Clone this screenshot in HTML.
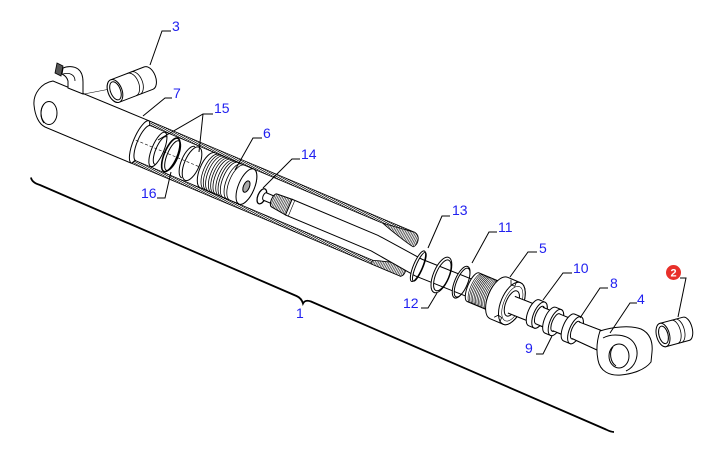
<!DOCTYPE html>
<html><head><meta charset="utf-8">
<style>
html,body{margin:0;padding:0;background:#fff;}
svg{display:block;}
text{font-family:"Liberation Sans",Arial,sans-serif;font-size:14px;fill:#2020f0;}
</style></head><body>
<svg width="720" height="471" viewBox="0 0 720 471" xmlns="http://www.w3.org/2000/svg">
<defs>
<pattern id="hb" patternUnits="userSpaceOnUse" width="2.2" height="4" patternTransform="skewX(-35)">
 <rect width="2.2" height="4" fill="#fff"/>
 <line x1="0.5" y1="0" x2="0.5" y2="4" stroke="#000" stroke-width="0.9"/>
</pattern>
<pattern id="kn" patternUnits="userSpaceOnUse" width="1.6" height="4">
 <rect width="1.6" height="4" fill="#fff"/>
 <line x1="0.4" y1="0" x2="0.4" y2="4" stroke="#333" stroke-width="0.7"/>
</pattern>
</defs>

<!-- cylinder body (eye end) -->
<path d="M149.3,120.9 L53,81 C41,83 33,94 34,105 C35,116 39,124 45,127 L131.5,163.3" fill="#fff" stroke="#000" stroke-width="1"/>
<ellipse cx="49" cy="113" rx="8" ry="11.5" fill="#fff" stroke="#000" stroke-width="1"/>
<path d="M44,104 C40,109 40,118 44,123" fill="none" stroke="#000" stroke-width="1"/>

<!-- main tube group -->
<g transform="translate(145,144) rotate(22.78)" stroke="#000" stroke-width="1" fill="none">
  <path d="M-5,-23 L283,-23 L283,-19 L-3,-19 Z" fill="url(#hb)" stroke-width="0.8"/>
  <path d="M-3,19 L287,19 L287,23 L-5,23 Z" fill="url(#hb)" stroke-width="0.8"/>
  <path d="M-5,23 A7,23 0 0 1 -5,-23"/>
  <path d="M-2,19 A6,19 0 0 1 -2,-19"/>
  <path d="M250,-19 L283,-23 C290,-22 291,-12 287,-9 C280,-10 262,-15 250,-19 Z" fill="url(#kn)" stroke-width="0.8"/>
  <path d="M255,19 C268,15 280,11 285,11 C290,12 291,20 287,23 L255,23 Z" fill="url(#kn)" stroke-width="0.8"/>
  <line x1="-10" y1="0" x2="66" y2="0" stroke-dasharray="3,2" stroke-width="0.6"/>
  <ellipse cx="14" cy="0" rx="6" ry="18.5"/>
  <path d="M17,-15 A5,15 0 0 0 17,15"/>
  <ellipse cx="28" cy="0" rx="6.5" ry="18" stroke-width="1.6"/>
  <ellipse cx="30" cy="0" rx="5.5" ry="16"/>
  <ellipse cx="51" cy="0" rx="7.5" ry="18"/>
  <path d="M47,-17 A7,17 0 0 0 47,17"/>
  <path d="M68,-19 L110,-19 A8,19 0 0 1 110,19 L68,19 A8,19 0 0 1 68,-19 Z" fill="#fff"/>
  <path d="M72,-19 A8,19 0 0 0 72,19 M74.5,-19 A8,19 0 0 0 74.5,19 M77,-19 A8,19 0 0 0 77,19 M80,-19 A8,19 0 0 0 80,19 M82.5,-19 A8,19 0 0 0 82.5,19 M85,-19 A8,19 0 0 0 85,19 M88,-19 A8,19 0 0 0 88,19 M90.5,-19 A8,19 0 0 0 90.5,19 M93,-19 A8,19 0 0 0 93,19 M97,-19 A8,19 0 0 0 97,19 M100,-19 A8,19 0 0 0 100,19" stroke-width="0.8"/>
  <ellipse cx="110" cy="0" rx="8" ry="19" fill="#fff"/>
  <ellipse cx="110" cy="0" rx="3" ry="6" fill="#aaa"/>
  <ellipse cx="128" cy="3" rx="4" ry="8" stroke-width="1.3"/>
  <path d="M131,-2 L142,-2 L142,6 L131,6 A2,4 0 0 1 131,-2 Z" fill="#fff"/>
  <path d="M141,-5 L157,-6 L157,11 L141,9 A3,7 0 0 1 141,-5 Z" fill="url(#kn)"/>
  <path d="M157,-6 L250,-6 L300,-1 L470,-4 L500,-5 L500,15 L470,14 L300,17 L250,11 L157,11 Z" fill="#fff"/>
  <line x1="160" y1="-6" x2="160" y2="11" stroke-width="0.6"/>

  <path fill-rule="evenodd" fill="#fff" d="M299,-9.5 A4.5,16.5 0 1 1 299,23.5 A4.5,16.5 0 1 1 299,-9.5 Z M300.5,-8.5 A3.6,15.5 0 1 1 300.5,22.5 A3.6,15.5 0 1 1 300.5,-8.5 Z"/>
  <path fill-rule="evenodd" fill="#fff" d="M324,-13 A8,19 0 1 1 324,25 A8,19 0 1 1 324,-13 Z M325,-10.5 A6.5,16.5 0 1 1 325,22.5 A6.5,16.5 0 1 1 325,-10.5 Z"/>
  <path fill-rule="evenodd" fill="#fff" d="M345,-12 A6.5,17 0 1 1 345,22 A6.5,17 0 1 1 345,-12 Z M346,-10.5 A5.5,15.5 0 1 1 346,20.5 A5.5,15.5 0 1 1 346,-10.5 Z"/>

  <!-- gland 5 -->
  <path d="M358,-10.5 L388,-10.5 L388,20.5 L358,20.5 A5.5,15.5 0 0 1 358,-10.5 Z" fill="#fff"/>
  <path d="M361,-10.5 A5.5,15.5 0 0 0 361,20.5 M362.6,-10.5 A5.5,15.5 0 0 0 362.6,20.5 M364.2,-10.5 A5.5,15.5 0 0 0 364.2,20.5 M365.8,-10.5 A5.5,15.5 0 0 0 365.8,20.5 M367.4,-10.5 A5.5,15.5 0 0 0 367.4,20.5 M369,-10.5 A5.5,15.5 0 0 0 369,20.5 M370.6,-10.5 A5.5,15.5 0 0 0 370.6,20.5 M372.2,-10.5 A5.5,15.5 0 0 0 372.2,20.5 M373.8,-10.5 A5.5,15.5 0 0 0 373.8,20.5 M375.4,-10.5 A5.5,15.5 0 0 0 375.4,20.5 M377,-10.5 A5.5,15.5 0 0 0 377,20.5 M378.6,-10.5 A5.5,15.5 0 0 0 378.6,20.5 M380.2,-10.5 A5.5,15.5 0 0 0 380.2,20.5 M381.8,-10.5 A5.5,15.5 0 0 0 381.8,20.5 M383.4,-10.5 A5.5,15.5 0 0 0 383.4,20.5" stroke-width="0.6"/>
  <path d="M386,-17.5 L400,-17.5 A11,22.5 0 0 1 400,27.5 L386,27.5 A11,22.5 0 0 1 386,-17.5 Z" fill="#fff"/>
  <ellipse cx="400" cy="5" rx="11" ry="22.5" fill="#fff"/>
  <ellipse cx="400.5" cy="5" rx="8.5" ry="18.5" stroke-width="0.6"/>
  <path d="M390,-16.5 L392,-12 L396,-12 L396,-17 M389,24.5 L392,21 L396,22 L396,27" stroke-width="0.8"/>
  <ellipse cx="400" cy="5" rx="6" ry="13.5" fill="#fff"/>
  <path d="M400,-2.7 L424,-3.2 L424,14.8 L400,15.3" fill="#fff"/>

  <path d="M424,-9 L430,-9 A6,14 0 0 1 430,19 L424,19 A6,14 0 0 1 424,-9 Z" fill="#fff"/>
  <ellipse cx="430" cy="5" rx="6" ry="14" fill="#fff"/>
  <ellipse cx="430" cy="5" rx="3.8" ry="9.5" fill="#fff"/>
  <path d="M430,-3.5 L442,-3.6 L442,14.4 L430,14.5" fill="#fff"/>
  <path d="M442,-8.5 L448,-8.5 A6,14 0 0 1 448,19.5 L442,19.5 A6,14 0 0 1 442,-8.5 Z" fill="#fff"/>
  <ellipse cx="448" cy="5.5" rx="6" ry="14" fill="#fff"/>
  <ellipse cx="448" cy="5.5" rx="3.8" ry="9.5" fill="#fff"/>
  <path d="M448,-3.8 L462,-3.9 L462,14.1 L448,14.2" fill="#fff"/>
  <path d="M462,-9.5 L469,-9.5 A6,14.5 0 0 1 469,19.5 L462,19.5 A6,14.5 0 0 1 462,-9.5 Z" fill="#fff"/>
  <ellipse cx="469" cy="5" rx="6" ry="14.5" fill="#fff"/>
  <ellipse cx="469" cy="5" rx="3.8" ry="9.5" fill="#fff"/>
  <path d="M469,-4 L500,-5 L500,15 L469,14" fill="#fff"/>
</g>

<!-- rod eye (4) -->
<path d="M600,331 C612,327 630,325 641,329 C650,333 653,342 652,352 L651,362 C645,370 632,374 621,375 C609,376 600,371 598,360 C596,350 597,340 600,331 Z" fill="#fff" stroke="#000" stroke-width="1"/>
<path d="M603,338 C612,333 628,334 634,343 C640,352 637,366 626,371" fill="none" stroke="#000" stroke-width="1"/>
<ellipse cx="619" cy="356" rx="10" ry="12" fill="#fff" stroke="#000" stroke-width="1"/>
<path d="M613,347 C609,352 610,362 616,366" fill="none" stroke="#000" stroke-width="1"/>

<!-- lug + nipple -->
<path d="M57,63 L63,66 L61,76 L55,73 Z" fill="#555" stroke="#000" stroke-width="0.8"/>
<path d="M68,88 L68,81 C67,77 64,75 62,74 L63,68 C67,66 74,66 78,69 C82,72 83,77 83,82 L83,94 Z" fill="#fff" stroke="#000" stroke-width="1"/>
<path d="M63,74 C70,72 75,75 75,81" fill="none" stroke="#000" stroke-width="0.8"/>
<line x1="84" y1="94" x2="110" y2="89" stroke="#000" stroke-width="0.6"/>

<!-- bushing 3 -->
<g transform="translate(115,91) rotate(-21)" stroke="#000" stroke-width="1" fill="none">
  <path d="M0,-12 L36,-12 A7,12 0 0 1 36,12 L0,12 A7,12 0 0 1 0,-12 Z" fill="#fff"/>
  <path d="M18,-12 A7,12 0 0 1 18,12 M22,-12 A7,12 0 0 1 22,12" stroke-width="0.8"/>
  <ellipse cx="0" cy="0" rx="7" ry="12" fill="#fff"/>
  <ellipse cx="0.5" cy="0" rx="5" ry="9.5"/>
</g>

<!-- bushing 2 -->
<g transform="translate(663,335) rotate(-15)" stroke="#000" stroke-width="1" fill="none">
  <path d="M0,-12 L24,-12 A6,12 0 0 1 24,12 L0,12 A6,12 0 0 1 0,-12 Z" fill="#fff"/>
  <path d="M12,-12 A6,12 0 0 1 12,12 M16,-12 A6,12 0 0 1 16,12" stroke-width="0.8"/>
  <ellipse cx="0" cy="0" rx="6.5" ry="12" fill="#fff"/>
  <ellipse cx="0.5" cy="0" rx="4.5" ry="9"/>
</g>

<!-- leaders -->
<g stroke="#000" stroke-width="1" fill="none">
  <polyline points="171,31 162,31 150,65"/>
  <polyline points="172,98 165,98 143,116"/>
  <polyline points="213,114 203,114 158,140"/>
  <line x1="203" y1="114" x2="199" y2="152"/>
  <polyline points="262,138 253,138 235,170"/>
  <polyline points="300,159 292,159 263,188"/>
  <polyline points="157,198 165,198 171,172"/>
  <polyline points="450,216 442,216 428,248"/>
  <polyline points="497,232 489,232 472,263"/>
  <polyline points="537,252 528,252 510,277"/>
  <polyline points="572,273 563,273 543,300"/>
  <polyline points="608,288 600,288 580,318"/>
  <polyline points="637,303 630,303 610,333"/>
  <polyline points="421,308 428,308 437,293"/>
  <polyline points="536,354 543,354 552,336"/>
  <polyline points="680,278 686,278 678,317"/>
</g>

<!-- bracket 1 -->
<path d="M31,177.5 C31.5,181 35,183.5 40,185 L296.5,296 C300,297.5 302,300 303,303.5 C304.5,300.5 307,300 311,301.5 L606,429.5 C609,431 611,432 614,432" fill="none" stroke="#000" stroke-width="1.8"/>

<!-- labels -->
<text x="172" y="31">3</text>
<text x="173" y="98">7</text>
<text x="214" y="113">15</text>
<text x="263" y="138">6</text>
<text x="301" y="159">14</text>
<text x="141" y="198">16</text>
<text x="452" y="215">13</text>
<text x="498" y="232">11</text>
<text x="539" y="253">5</text>
<text x="573" y="273">10</text>
<text x="610" y="288">8</text>
<text x="637" y="304">4</text>
<text x="403" y="308">12</text>
<text x="525" y="353">9</text>
<text x="296" y="318">1</text>

<circle cx="673.5" cy="272.5" r="7.5" fill="#e8302a"/>
<text x="673.5" y="276.5" text-anchor="middle" style="fill:#fff;font-size:11px;font-weight:bold;">2</text>
</svg>
</body></html>
